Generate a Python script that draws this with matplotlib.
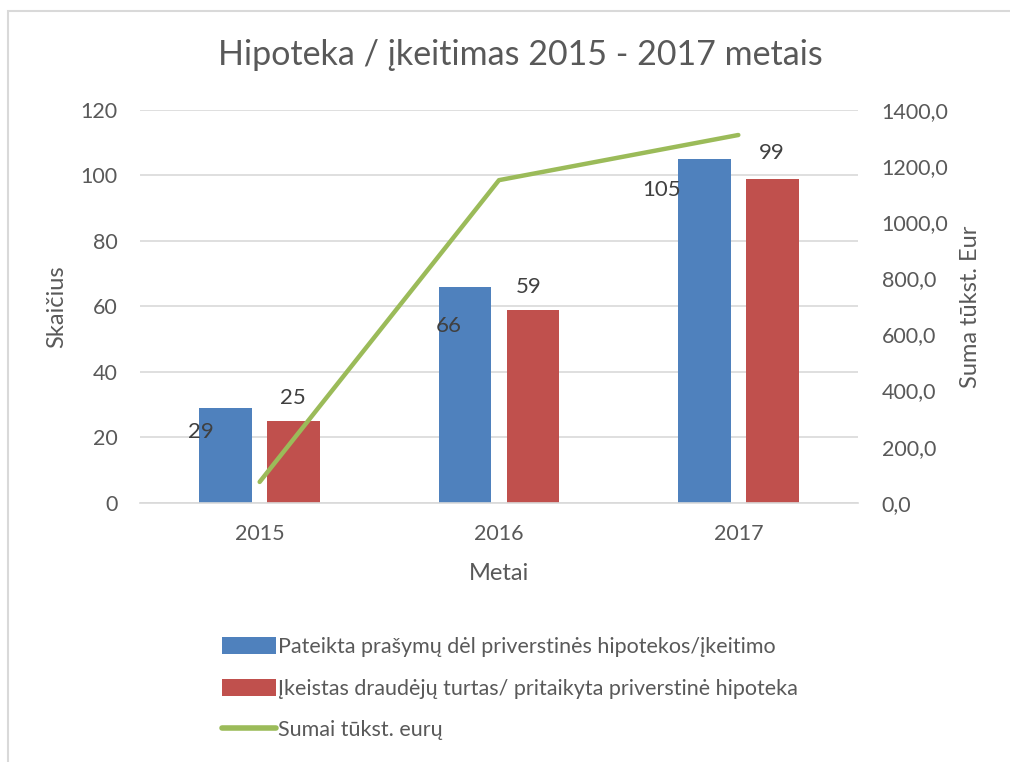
import matplotlib
matplotlib.use('Agg')
import matplotlib.pyplot as plt
import numpy as np
from matplotlib.patches import Rectangle

plt.rcParams['font.family'] = ['Lato', 'DejaVu Sans']

# Data
years = ['2015', '2016', '2017']
submitted = [29, 66, 105]          # Pateikta prašymų
pledged = [25, 59, 99]             # Įkeistas draudėjų turtas
sums = [74, 1150, 1311]            # Sumai tūkst. eurų

# Manually placed data labels (offset from category centre, y value on left axis)
sub_lbl_pos = [(-0.245, 21.5), (-0.21, 54), (-0.32, 95.5)]
pl_lbl_pos = [(0.14, 32), (0.125, 66), (0.14, 107)]

blue = '#4F81BD'
red = '#C0504D'
green = '#9BBB59'
txt = '#595959'
grid = '#D9D9D9'

fig = plt.figure(figsize=(10.1, 7.62), dpi=100)
ax = fig.add_axes([0.1386, 0.3403, 0.7109, 0.5153])
ax2 = ax.twinx()

x = np.arange(len(years))
w = 0.22
off = 0.1417
b1 = ax.bar(x - off, submitted, w, color=blue, zorder=2,
            label='Pateikta prašymų dėl priverstinės hipotekos/įkeitimo')
b2 = ax.bar(x + off, pledged, w, color=red, zorder=2,
            label='Įkeistas draudėjų turtas/ pritaikyta priverstinė hipoteka')

for i in range(len(years)):
    ax.text(x[i] + sub_lbl_pos[i][0], sub_lbl_pos[i][1], str(submitted[i]),
            ha='center', va='center', fontsize=16, color='#404040', zorder=5)
    ax.text(x[i] + pl_lbl_pos[i][0], pl_lbl_pos[i][1], str(pledged[i]),
            ha='center', va='center', fontsize=16, color='#404040', zorder=5)

ln, = ax2.plot(x, sums, color=green, lw=3.2, solid_capstyle='round',
               label='Sumai tūkst. eurų', zorder=3)

ax.set_xlim(-0.5, 2.5)
ax.set_ylim(0, 120)
ax.set_yticks(range(0, 121, 20))
ax2.set_ylim(0, 1400)
ax2.set_yticks(range(0, 1401, 200))
ax2.set_yticklabels([f'{v},0' for v in range(0, 1401, 200)])

ax.set_xticks(x)
ax.set_xticklabels(years)
ax.yaxis.grid(True, color=grid, lw=1.2, zorder=0)
ax.set_axisbelow(True)

for a in (ax, ax2):
    for s in a.spines.values():
        s.set_visible(False)
    a.tick_params(length=0, labelsize=15.5, colors=txt)
ax.spines['bottom'].set_visible(True)
ax.spines['bottom'].set_color(grid)
ax.spines['bottom'].set_linewidth(1.2)
ax.tick_params(axis='y', pad=16)
ax.tick_params(axis='x', pad=15)
ax2.tick_params(axis='y', pad=17)

# line drawn above the bars
ax2.set_zorder(ax.get_zorder() + 1)
ax2.patch.set_visible(False)

ax.set_xlabel('Metai', fontsize=17, color=txt, labelpad=14)
ax.set_ylabel('Skaičius', fontsize=17, color=txt, labelpad=10)
ax2.set_ylabel('Suma tūkst. Eur', fontsize=17, color=txt, labelpad=8)

fig.text(0.5155, 0.928, 'Hipoteka / įkeitimas 2015 - 2017 metais', ha='center',
         va='center', fontsize=24.5, color=txt)

leg = fig.legend(handles=[b1, b2, ln], loc='upper left', bbox_to_anchor=(0.209, 0.178),
                 frameon=False, fontsize=15.5, labelcolor=txt, handlelength=2.5,
                 handleheight=0.85, handletextpad=0.1, labelspacing=1.0, borderpad=0)
leg.get_lines()[0].set_linewidth(4)

# chart border (top and left visible)
fig.patches.append(Rectangle((8 / 1010, -0.05), 1.2, 1 - 11 / 762 + 0.05,
                             transform=fig.transFigure, fill=False,
                             edgecolor=grid, lw=1.5))

fig.savefig('out.png', dpi=100)
